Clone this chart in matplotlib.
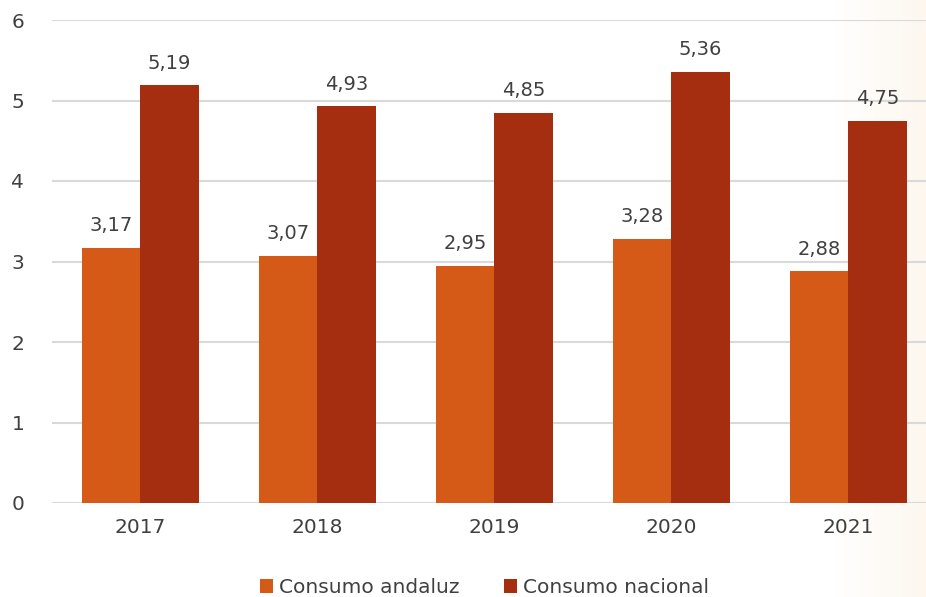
import numpy as np
import matplotlib.pyplot as plt

years = ["2017", "2018", "2019", "2020", "2021"]
andaluz = [3.17, 3.07, 2.95, 3.28, 2.88]
nacional = [5.19, 4.93, 4.85, 5.36, 4.75]
series_names = ["Consumo andaluz", "Consumo nacional"]
colors = ["#D55A18", "#A52E10"]

plt.rcParams['font.family'] = ['DejaVu Sans']
text_color = "#404040"

fig = plt.figure(figsize=(9.26, 5.97), dpi=100)

# faint beige band on the right edge
bg = fig.add_axes([0, 0, 1, 1], zorder=-10)
grad = np.linspace(0, 1, 200)
grad = np.clip((grad - 0.9) / 0.1, 0, 1)
img = np.ones((1, 200, 3))
tint = np.array([253, 247, 240]) / 255
img[0] = (1 - grad[:, None]) * 1 + grad[:, None] * tint
bg.imshow(img, aspect="auto", extent=[0, 1, 0, 1])
bg.axis("off")

ax = fig.add_axes([52 / 926, 94 / 597, (926 - 52) / 926, 483 / 597])
ax.patch.set_alpha(0)

x = np.arange(len(years))
w = 0.33
b1 = ax.bar(x - w / 2, andaluz, w, color=colors[0], label=series_names[0], zorder=3)
b2 = ax.bar(x + w / 2, nacional, w, color=colors[1], label=series_names[1], zorder=3)

for bars, vals in ((b1, andaluz), (b2, nacional)):
    for rect, v in zip(bars, vals):
        ax.annotate(f"{v:.2f}".replace(".", ","),
                    (rect.get_x() + rect.get_width() / 2, v),
                    xytext=(0, 9), textcoords="offset points",
                    ha="center", va="bottom", fontsize=14, color=text_color)

ax.set_xlim(-0.5, 4.44)
ax.set_ylim(0, 6)
ax.set_yticks(range(7))
ax.set_xticks(x)
ax.set_xticklabels(years)
ax.tick_params(axis="both", length=0, labelsize=14.5, labelcolor=text_color)
ax.tick_params(axis="y", pad=20)
ax.tick_params(axis="x", pad=11)
ax.yaxis.grid(True, color="#D9D9D9", linewidth=1.5, zorder=0)
for s in ax.spines.values():
    s.set_visible(False)

ax.legend(loc="upper center", bbox_to_anchor=(0.495, -0.118), ncol=2, frameon=False,
          fontsize=14.5, labelcolor=text_color, handlelength=0.65, handleheight=0.65,
          handletextpad=0.3, columnspacing=2.2)

fig.savefig("out.png", dpi=100)
